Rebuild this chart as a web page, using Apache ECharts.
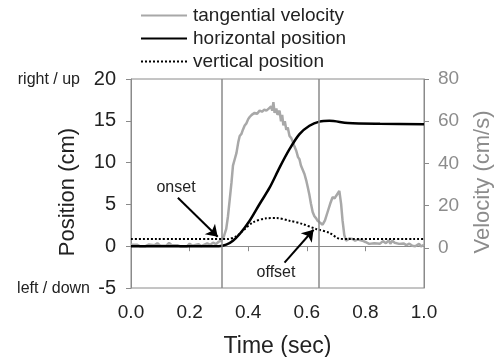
<!DOCTYPE html>
<html>
<head>
<meta charset="utf-8">
<script src="https://cdn.jsdelivr.net/npm/echarts@6/dist/echarts.min.js"></script>
<style>
  html, body { margin: 0; padding: 0; background: #fff; }
  #chart { width: 495px; height: 357px; }
</style>
</head>
<body>
<div id="chart"></div>
<script>
// time ticks
var timeTicks = [0, 0.2, 0.4, 0.6, 0.8, 1.0];
var velTicks = [0, 20, 40, 60, 80];

// tangential velocity (cm/s)
var velTime = [0.00, 0.02, 0.03, 0.05, 0.06, 0.08, 0.09, 0.10, 0.12, 0.13, 0.14, 0.16, 0.17, 0.19, 0.20, 0.21, 0.23, 0.24, 0.26, 0.27, 0.28, 0.29, 0.30,
  0.308, 0.317, 0.325, 0.331, 0.337, 0.343, 0.348, 0.354, 0.36, 0.366, 0.371, 0.377, 0.382, 0.388, 0.394, 0.40, 0.405, 0.412, 0.422, 0.43, 0.439, 0.447,
  0.455, 0.462, 0.47, 0.478, 0.482, 0.486, 0.49, 0.496, 0.50, 0.507, 0.512, 0.516, 0.52, 0.525, 0.53, 0.535, 0.541, 0.547, 0.553, 0.558, 0.564, 0.57,
  0.575, 0.58, 0.586, 0.592, 0.598, 0.603, 0.609, 0.614, 0.62, 0.626, 0.632, 0.637, 0.643, 0.654, 0.662, 0.671, 0.68, 0.688, 0.695, 0.70, 0.706, 0.711,
  0.717, 0.722, 0.728, 0.734, 0.745, 0.756, 0.765, 0.775, 0.79, 0.80, 0.813, 0.83, 0.85, 0.86, 0.87, 0.88, 0.885, 0.892, 0.90, 0.915, 0.93, 0.94, 0.95,
  0.96, 0.97, 0.983, 0.99, 1.0];
var velValue = [1.5, 1.5, 0.8, 0.8, 1.6, 1.2, 2.2, 1.0, 1.0, 2.4, 1.2, 1.2, 0.6, 0.6, 2.0, 1.0, 1.8, 0.8, 2.2, 1.4, 2.5, 1.8, 3.0,
  3.4, 5.5, 9, 15, 23, 31, 39, 42, 45, 50, 53, 54, 56, 58, 59, 61, 62, 63, 64, 63.5, 65, 64.5,
  65.5, 65, 66, 67, 65, 69, 64, 66, 63, 65, 60, 63, 58, 60, 56, 57, 53, 52, 50, 48, 46, 43,
  42, 39, 37, 35, 32, 29, 25, 21, 17, 15, 14, 12.8, 12, 11, 13, 17, 21, 24, 23.5, 24.6, 25, 27,
  21, 13, 6, 3.4, 4.4, 4.2, 3.4, 4, 3.4, 2.8, 1.9, 2.2, 2, 3.2, 2.2, 3.6, 2, 3.4, 2.4, 1.9, 2.1, 1.3, 2,
  1, 0.8, 1.9, 0.7, 1.5];

// horizontal position (cm)
var horTime = [0, 0.30, 0.325, 0.348, 0.371, 0.405, 0.439, 0.473, 0.507, 0.541, 0.575, 0.609, 0.643, 0.677, 0.74, 0.85, 1.0];
var horValue = [0, 0, 0.18, 0.66, 1.46, 3.05, 5.05, 7.0, 9.4, 11.6, 13.4, 14.4, 14.9, 15.0, 14.75, 14.65, 14.6];

// vertical position (cm)
var verTime = [0, 0.33, 0.36, 0.382, 0.416, 0.462, 0.496, 0.541, 0.586, 0.632, 0.677, 0.711, 0.74, 1.0];
var verValue = [0.85, 0.85, 1.2, 1.85, 2.85, 3.33, 3.37, 3.05, 2.65, 2.06, 1.6, 0.9, 0.85, 0.85];

// onset / offset times
var markTimes = [0.306, 0.641];

function zip(a, b) {
  var out = [];
  for (var i = 0; i < a.length; i++) out.push([a[i], b[i]]);
  return out;
}

var chart = echarts.init(document.getElementById('chart'));
var font = 'Liberation Sans, Arial, sans-serif';
var axisGray = '#8a8a8a';

var option = {
  animation: false,
  textStyle: { fontFamily: font },
  grid: { left: 131, right: 71, top: 79, bottom: 69, containLabel: false, outerBoundsMode: 'none', show: true, borderColor: axisGray, borderWidth: 1 },
  legend: {
    orient: 'vertical',
    left: 135,
    top: 1,
    itemWidth: 46,
    itemHeight: 14,
    itemGap: 4,
    itemStyle: { opacity: 0 },
    textStyle: { fontSize: 19, color: '#222', padding: [0, 0, 0, 1] },
    data: ['tangential velocity', 'horizontal position', 'vertical position']
  },
  xAxis: {
    type: 'value',
    min: 0, max: 1, interval: 0.2,
    splitLine: { show: false },
    axisLine: { lineStyle: { color: axisGray } },
    axisTick: { length: 5, lineStyle: { color: axisGray } },
    axisLabel: { fontSize: 19, color: '#222', margin: 15, formatter: function (v) { return v.toFixed(1); } },
    name: 'Time (sec)',
    nameLocation: 'middle',
    nameGap: 47,
    nameTextStyle: { fontSize: 23, color: '#222' }
  },
  yAxis: [{
    type: 'value',
    min: -5, max: 20, interval: 5,
    splitLine: { show: false },
    axisLine: { show: true, lineStyle: { color: axisGray } },
    axisTick: { show: true, length: 5, lineStyle: { color: axisGray } },
    axisLabel: { fontSize: 20, color: '#222', margin: 15 }
  }, {
    type: 'value',
    min: -19, max: 80,
    position: 'right',
    splitLine: { show: false },
    axisLine: { show: true, lineStyle: { color: axisGray } },
    axisTick: { show: true, length: 5, lineStyle: { color: axisGray }, customValues: velTicks },
    axisLabel: { fontSize: 19, color: '#8c8c8c', margin: 14, customValues: velTicks }
  }],
  graphic: [
    { type: 'text', x: 80, y: 80, style: { text: 'right / up', fontSize: 16, fontFamily: font, fill: '#222', align: 'right', verticalAlign: 'middle' } },
    { type: 'text', x: 90, y: 289, style: { text: 'left / down', fontSize: 16, fontFamily: font, fill: '#222', align: 'right', verticalAlign: 'middle' } },
    { type: 'text', x: 68, y: 192, rotation: Math.PI / 2, style: { text: 'Position (cm)', fontSize: 22, fontFamily: font, fill: '#222', align: 'center', verticalAlign: 'middle' } },
    { type: 'text', x: 483, y: 182, rotation: Math.PI / 2, style: { text: 'Velocity (cm/s)', fontSize: 22, fontFamily: font, fill: '#8c8c8c', align: 'center', verticalAlign: 'middle' } },
    { type: 'text', x: 176, y: 188, style: { text: 'onset', fontSize: 16, fontFamily: font, fill: '#222', align: 'center', verticalAlign: 'middle' } },
    { type: 'text', x: 276, y: 273, style: { text: 'offset', fontSize: 16, fontFamily: font, fill: '#222', align: 'center', verticalAlign: 'middle' } }
  ],
  series: [{
    name: 'tangential velocity',
    type: 'line',
    yAxisIndex: 1,
    symbol: 'none',
    data: zip(velTime, velValue),
    lineStyle: { color: '#a8a8a8', width: 2.5 },
    itemStyle: { color: '#a8a8a8' },
    markLine: {
      silent: true,
      symbol: ['none', 'none'],
      label: { show: false },
      lineStyle: { color: axisGray, width: 1.5, type: 'solid' },
      data: markTimes.map(function (t) { return { xAxis: t }; })
    }
  }, {
    name: 'horizontal position',
    type: 'line',
    symbol: 'none',
    smooth: 0.3,
    data: zip(horTime, horValue),
    lineStyle: { color: '#000', width: 2.5 },
    itemStyle: { color: '#000' },
    markLine: {
      silent: true,
      symbol: ['none', 'arrow'],
      symbolSize: 11,
      label: { show: false },
      lineStyle: { color: '#000', width: 2, type: 'solid' },
      data: [
        [{ coord: [0.16, 5.8] }, { coord: [0.296, 1.14] }],
        [{ coord: [0.524, -1.97] }, { coord: [0.623, 1.97] }]
      ]
    }
  }, {
    name: 'vertical position',
    type: 'line',
    symbol: 'none',
    smooth: 0.3,
    data: zip(verTime, verValue),
    lineStyle: { color: '#000', width: 2, type: [2, 2] },
    itemStyle: { color: '#000' }
  }]
};

chart.setOption(option);
</script>
</body>
</html>
